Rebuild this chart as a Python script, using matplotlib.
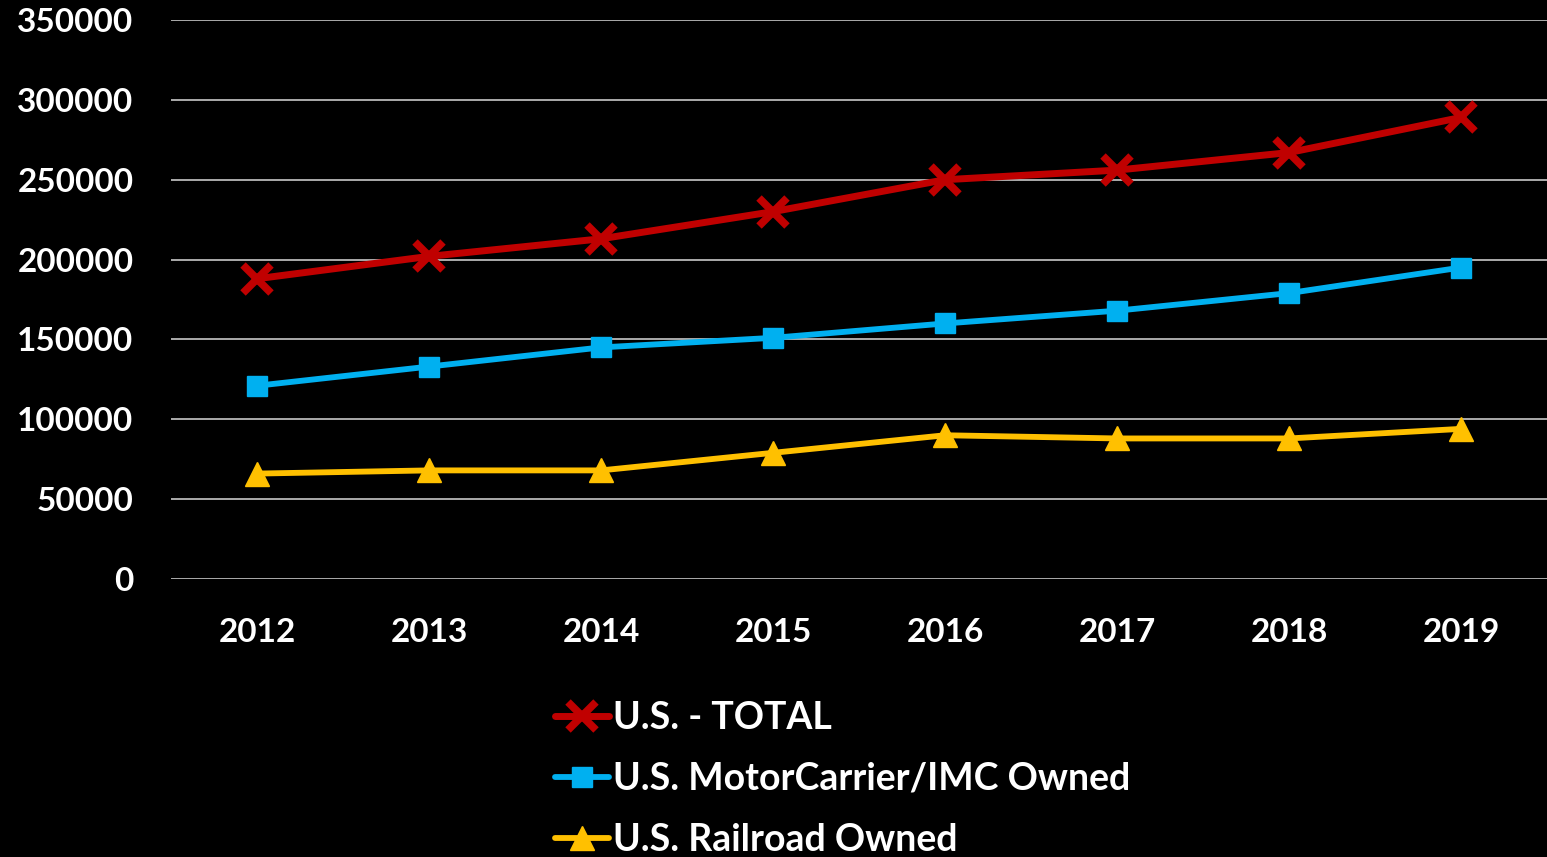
import matplotlib.pyplot as plt
import numpy as np

years = ['2012', '2013', '2014', '2015', '2016', '2017', '2018', '2019']
us_total = [188000, 202000, 213000, 230000, 250000, 256000, 267000, 289000]
motor_carrier = [121000, 133000, 145000, 151000, 160000, 168000, 179000, 195000]
railroad = [66000, 68000, 68000, 79000, 90000, 88000, 88000, 94000]

plt.rcParams['font.family'] = ['Lato', 'DejaVu Sans']

dpi = 100
fig = plt.figure(figsize=(15.47, 8.57), dpi=dpi, facecolor='black')
# axes fill the area between the gridlines (pixel coords from the reference)
ax = fig.add_axes([171 / 1547, 1 - 579 / 857, (1547 - 171) / 1547, (579 - 20) / 857])
ax.set_facecolor('black')

x = np.arange(len(years))
ax.plot(x, us_total, color='#C00000', lw=5, marker='x', ms=20, mew=5.5,
        label='U.S. - TOTAL', solid_capstyle='round', zorder=3)
ax.plot(x, motor_carrier, color='#00B0F0', lw=4.2, marker='s', ms=15,
        label='U.S. MotorCarrier/IMC Owned', solid_capstyle='round', zorder=3)
ax.plot(x, railroad, color='#FFC000', lw=4.2, marker='^', ms=17,
        label='U.S. Railroad Owned', solid_capstyle='round', zorder=3)

ax.set_xlim(-0.5, len(years) - 0.5)
ax.set_ylim(0, 350000)
ax.set_yticks(np.arange(0, 350001, 50000))
ax.set_yticklabels([str(v) for v in range(0, 350001, 50000)])
ax.set_xticks(x)
ax.set_xticklabels(years)

ax.grid(axis='y', color='#D9D9D9', lw=1.1)
ax.set_axisbelow(True)
for s in ax.spines.values():
    s.set_visible(False)
ax.tick_params(axis='both', length=0, colors='white', labelsize=24)
ax.tick_params(axis='y', pad=27)
ax.tick_params(axis='x', pad=28)
for lbl in ax.get_xticklabels() + ax.get_yticklabels():
    lbl.set_fontweight('bold')

leg = fig.legend(loc='upper left', bbox_to_anchor=(555 / 1547, 1 - 701 / 857),
                 frameon=False, fontsize=27, labelcolor='white',
                 handlelength=1.45, handletextpad=0.1, labelspacing=0.72,
                 borderaxespad=0, borderpad=0)
for t in leg.get_texts():
    t.set_fontweight('bold')

fig.savefig('out.png', dpi=dpi, facecolor='black')
